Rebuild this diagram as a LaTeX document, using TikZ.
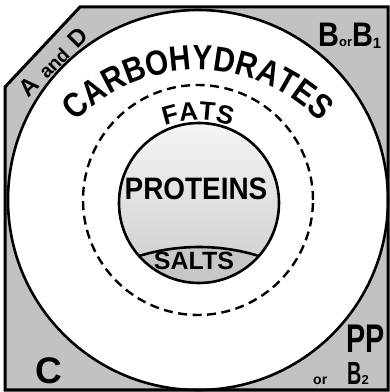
\documentclass[tikz,border=0pt]{standalone}
\usepackage{fontspec}
\setmainfont{Liberation Sans}
\newfontfamily\carbfont[FakeStretch=0.85]{Liberation Sans}
\newfontfamily\fatsfont[LetterSpace=30]{Liberation Sans}
\newfontfamily\protfont[FakeStretch=0.9]{Liberation Sans}
\newfontfamily\bfont[FakeStretch=0.85]{Liberation Sans}
\newfontfamily\pfont[FakeStretch=0.72]{Liberation Sans}
\newfontfamily\bbfont[FakeStretch=0.62]{Liberation Sans}
\usetikzlibrary{decorations.text}
\begin{document}
\begin{tikzpicture}[x=1pt,y=1pt]
\useasboundingbox (0,0) rectangle (390,392);
\tikzset{
  border/.style={line width=3pt, line join=miter},
  ring/.style={line width=2.6pt},
  dashring/.style={line width=2.4pt, dash pattern=on 9pt off 5.5pt},
  stipple/.style={fill=black!24},
  densestipple/.style={fill=black!22},
  lbl/.style={inner sep=0pt, font=\bfseries},
}
\coordinate (c0) at (198,192);
\coordinate (pc) at (199,189);
\coordinate (k1) at (80,385);
\coordinate (k2) at (388,385);
\coordinate (k3) at (388,2);
\coordinate (k4) at (5,2);
\coordinate (k5) at (5,305);
\coordinate (l1) at (139,136);
% fills
\path[stipple] (k1) -- (k2) -- (k3) -- (k4) -- (k5) -- cycle;
\fill[white] (c0) circle[radius=190];
\shade[top color=black!4, bottom color=black!20] (pc) circle[radius=80];
\begin{scope}
  \clip (pc) circle[radius=80];
  \path[densestipple] (l1) arc[start angle=107.06, end angle=72.94, radius=204.5] -- (290,60) -- (110,60) -- cycle;
\end{scope}
% lines
\draw[border] (k1) -- (k2) -- (k3) -- (k4) -- (k5) -- cycle;
\draw[ring] (c0) circle[radius=190];
\draw[dashring] (c0) circle[radius=115];
\draw[ring] (pc) circle[radius=80];
\draw[ring] (l1) arc[start angle=107.06, end angle=72.94, radius=204.5];
% arced texts
\path[decorate, decoration={text along path, text align=center,
  text={|\carbfont\bfseries\fontsize{35}{35}\selectfont|CARBOHYDRATES}}]
  (64.04,256.66) arc[start angle=142, end angle=38, radius=170];
\path[decorate, decoration={text along path, text align=center,
  text={|\fatsfont\bfseries\fontsize{26}{26}\selectfont|FATS}}]
  (121.4,236.28) arc[start angle=140, end angle=40, radius=100];
% texts
\node[lbl, anchor=base, font=\protfont\bfseries\fontsize{31}{31}\selectfont] (prot) at (196,192) {PROTEINS};
\node[lbl, anchor=base, font=\bfseries\fontsize{25}{25}\selectfont] (salts) at (194,122) {SALTS};
\node[lbl, anchor=base, font=\bfseries\fontsize{37}{37}\selectfont] (labc) at (48.5,9) {C};
\node[lbl, anchor=base west] (labb) at (318,345)
  {{\bfont\bfseries\fontsize{34}{34}\selectfont B}{\fontsize{13}{13}\selectfont or}{\bfont\bfseries\fontsize{34}{34}\selectfont B}\raisebox{-2pt}{\fontsize{15}{15}\selectfont 1}};
\node[lbl, anchor=base west, font=\pfont\bfseries\fontsize{40}{40}\selectfont] (labp) at (346,40) {PP};
\node[lbl, anchor=base west, font=\bfseries\fontsize{14}{14}\selectfont] (labor) at (313,7) {or};
\node[lbl, anchor=base west] (labb2) at (347,7)
  {{\bbfont\bfseries\fontsize{32}{32}\selectfont B}{\fontsize{13}{13}\selectfont 2}};
\node[lbl, rotate=45, font=\bfseries\fontsize{24}{24}\selectfont] (labad) at (53,330)
  {A\hspace{9pt}{\fontsize{19}{19}\selectfont and}\hspace{9pt}D};
\end{tikzpicture}
\end{document}
